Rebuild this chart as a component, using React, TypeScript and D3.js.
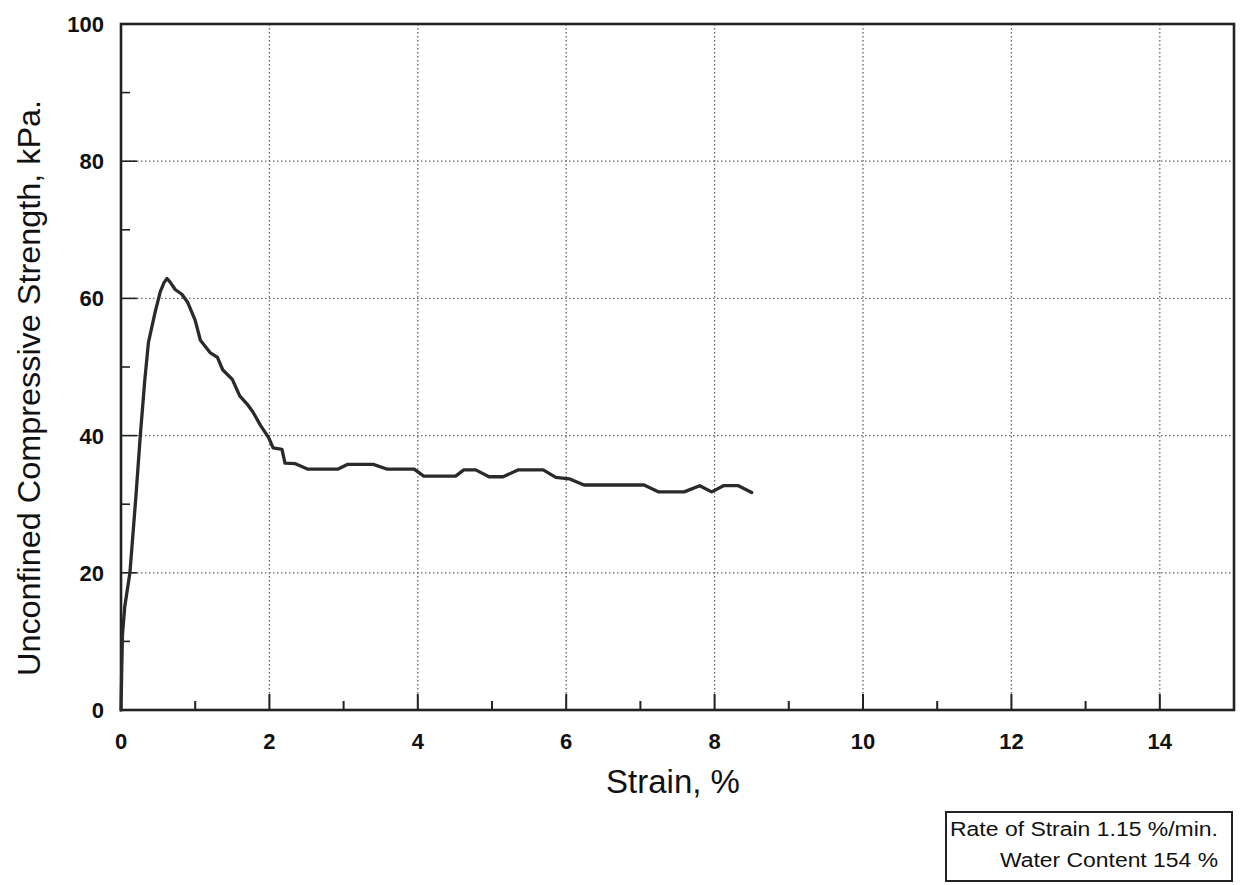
import React from "react";
import * as d3 from "d3";

const strain = [0, 0.01, 0.02, 0.05, 0.12, 0.2, 0.26, 0.32, 0.37, 0.46, 0.53, 0.58, 0.62, 0.66, 0.73, 0.82, 0.9, 1.0, 1.07, 1.2, 1.3, 1.37, 1.5, 1.6, 1.7, 1.78, 1.88, 1.99, 2.05, 2.17, 2.21, 2.35, 2.52, 2.92, 3.05, 3.4, 3.59, 3.95, 4.08, 4.51, 4.62, 4.78, 4.96, 5.15, 5.35, 5.69, 5.86, 6.04, 6.24, 7.05, 7.24, 7.59, 7.8, 7.96, 8.12, 8.32, 8.5];
const stress = [0, 6, 11, 15, 20, 31, 40, 48, 53.6, 58, 61, 62.3, 62.9, 62.4, 61.3, 60.6, 59.4, 56.8, 53.9, 52.1, 51.4, 49.6, 48.2, 45.8, 44.6, 43.4, 41.5, 39.7, 38.2, 38, 36, 35.9, 35.1, 35.1, 35.8, 35.8, 35.1, 35.1, 34.1, 34.1, 35, 35, 34, 34, 35, 35, 33.9, 33.7, 32.8, 32.8, 31.8, 31.8, 32.7, 31.8, 32.7, 32.7, 31.7];

const xMajorTicks = [0, 2, 4, 6, 8, 10, 12, 14];
const xMinorTicks = [1, 3, 5, 7, 9, 11, 13];
const yMajorTicks = [0, 20, 40, 60, 80, 100];
const yMinorTicks = [10, 30, 50, 70, 90];

const xTitle = "Strain, %";
const yTitle = "Unconfined Compressive Strength, kPa.";
const noteLines = ["Rate of Strain 1.15 %/min.", "Water Content 154 %"];

export default function App() {
  const W = 1241, H = 885;
  const L = 121, R = 1234, T = 24, B = 710;
  const x = d3.scaleLinear().domain([0, 15]).range([L, R]);
  const y = d3.scaleLinear().domain([0, 100]).range([B, T]);
  const pts = strain.map((s, i) => [s, stress[i]] as [number, number]);
  const line = d3.line<[number, number]>().x(d => x(d[0])).y(d => y(d[1]))(pts) || "";
  const font = "'Liberation Sans', Arial, Helvetica, sans-serif";
  const ink = "#222";
  return (
    <svg width={W} height={H} style={{ position: "absolute", left: 0, top: 0, background: "#fff" }}>
      <rect x={0} y={0} width={W} height={H} fill="#fff" />
      {xMajorTicks.filter(v => v > 0).map(v => (
        <line key={"gx" + v} x1={x(v)} x2={x(v)} y1={T} y2={B} stroke="#666" strokeWidth={1.3} strokeDasharray="1.5,2.5" />
      ))}
      {yMajorTicks.filter(v => v > 0 && v < 100).map(v => (
        <line key={"gy" + v} x1={L} x2={R} y1={y(v)} y2={y(v)} stroke="#666" strokeWidth={1.3} strokeDasharray="1.5,2.5" />
      ))}
      {xMajorTicks.filter(v => v > 0).map(v => (
        <line key={"tx" + v} x1={x(v)} x2={x(v)} y1={B} y2={B - 16} stroke={ink} strokeWidth={2} />
      ))}
      {xMinorTicks.map(v => (
        <line key={"mx" + v} x1={x(v)} x2={x(v)} y1={B} y2={B - 9} stroke={ink} strokeWidth={2} />
      ))}
      {yMajorTicks.filter(v => v > 0 && v < 100).map(v => (
        <line key={"ty" + v} x1={L} x2={L + 16} y1={y(v)} y2={y(v)} stroke={ink} strokeWidth={1.6} />
      ))}
      {yMinorTicks.map(v => (
        <line key={"my" + v} x1={L} x2={L + 9} y1={y(v)} y2={y(v)} stroke={ink} strokeWidth={1.6} />
      ))}
      <rect x={L} y={T} width={R - L} height={B - T} fill="none" stroke={ink} strokeWidth={2.6} />
      <path d={line} fill="none" stroke="#2a2a2a" strokeWidth={3.3} strokeLinejoin="round" strokeLinecap="round" />
      {xMajorTicks.map(v => (
        <text key={"lx" + v} x={x(v)} y={B + 39} textAnchor="middle" fontFamily={font} fontSize={22} fontWeight="bold" fill="#111">{v}</text>
      ))}
      {yMajorTicks.map(v => (
        <text key={"ly" + v} x={104} y={y(v) + 8} textAnchor="end" fontFamily={font} fontSize={22} fontWeight="bold" fill="#111">{v}</text>
      ))}
      <text x={673} y={793} textAnchor="middle" fontFamily={font} fontSize={33} fill="#111">{xTitle}</text>
      <text transform={`translate(40,388) rotate(-90)`} textAnchor="middle" fontFamily={font} fontSize={32} textLength={576} lengthAdjust="spacingAndGlyphs" fill="#111">{yTitle}</text>
      <rect x={946} y={812} width={286} height={69} fill="#fff" stroke={ink} strokeWidth={2} />
      <text x={950} y={836} fontFamily={font} fontSize={20} textLength={268} lengthAdjust="spacingAndGlyphs" fill="#111">{noteLines[0]}</text>
      <text x={1000} y={867} fontFamily={font} fontSize={20} textLength={218} lengthAdjust="spacingAndGlyphs" fill="#111">{noteLines[1]}</text>
    </svg>
  );
}
